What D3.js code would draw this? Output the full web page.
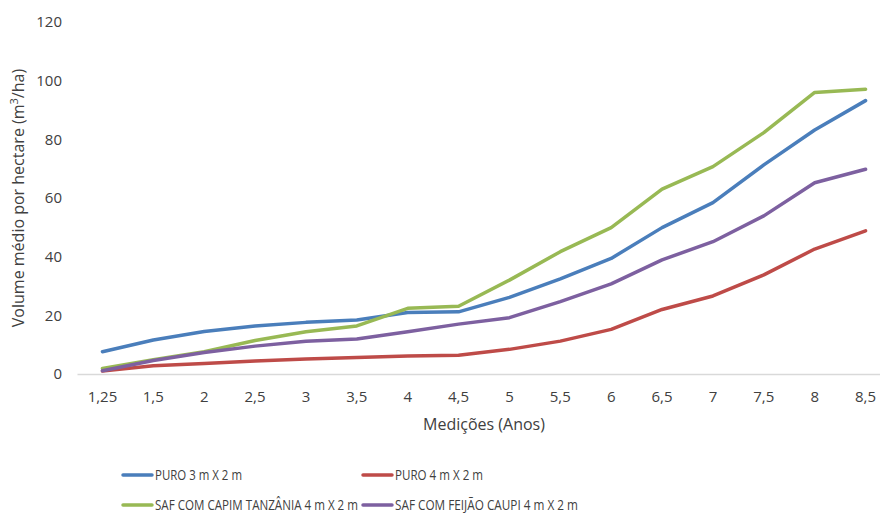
<!DOCTYPE html>
<html>
<head>
<meta charset="utf-8">
<script src="https://cdn.jsdelivr.net/npm/d3@7"></script>
<style>
  body { margin: 0; background: #fff; }
  text { font-family: "Open Sans", "Liberation Sans", sans-serif; fill: #404040; }
</style>
</head>
<body>
<div id="chart"></div>
<script>
// medições (anos)
const categories = ['1,25', '1,5', '2', '2,5', '3', '3,5', '4', '4,5', '5', '5,5', '6', '6,5', '7', '7,5', '8', '8,5']
const yTicks = [0, 20, 40, 60, 80, 100, 120]

const puro3x2 = [7.6, 11.6, 14.5, 16.4, 17.6, 18.4, 21.0, 21.2, 26.1, 32.4, 39.4, 49.9, 58.4, 71.3, 83.2, 93.2]
const puro4x2 = [1.0, 2.8, 3.6, 4.4, 5.1, 5.6, 6.1, 6.4, 8.4, 11.2, 15.2, 22.0, 26.6, 33.8, 42.6, 48.8]
const safCapim = [1.9, 4.9, 7.6, 11.4, 14.4, 16.4, 22.4, 23.1, 32.0, 41.7, 49.9, 63.0, 70.7, 82.3, 96.0, 97.1]
const safFeijao = [1.1, 4.6, 7.3, 9.5, 11.2, 11.9, 14.4, 17.0, 19.2, 24.7, 30.7, 38.9, 45.1, 53.9, 65.2, 69.8]

const seriesNames = ['PURO 3 m X 2 m', 'PURO 4 m X 2 m', 'SAF COM CAPIM TANZÂNIA 4 m X 2 m', 'SAF COM FEIJÃO CAUPI 4 m X 2 m']
const seriesColors = ['#4a7ebb', '#be4b48', '#98b954', '#7d60a0']
const seriesValues = [puro3x2, puro4x2, safCapim, safFeijao]

d3.select(window).on('load', () => {
    let svg = d3.select('#chart').append('svg')
        .attr('width', 880)
        .attr('height', 513)

    let x = d3.scaleBand()
        .domain(categories)
        .range([77, 891])

    let y = d3.scaleLinear()
        .domain([0, 120])
        .range([374, 22])

    // y axis labels, no line
    let yAxis = svg.append('g')
        .attr('transform', 'translate(62, 0)')
        .call(d3.axisLeft(y).tickValues(yTicks).tickSize(0).tickPadding(0))
    yAxis.select('.domain').remove()
    yAxis.selectAll('text')
        .style('font-size', '15px')
        .style('fill', '#404040')

    // x axis
    let xAxis = svg.append('g')
        .attr('transform', 'translate(0, 374)')
        .call(d3.axisBottom(x).tickSize(0).tickPadding(17))
    xAxis.select('.domain')
        .attr('stroke', '#d9d9d9')
        .attr('stroke-width', 1.5)
    xAxis.selectAll('text')
        .style('font-size', '15px')
        .style('fill', '#404040')

    svg.append('text')
        .attr('transform', 'translate(484, 430)')
        .text('Medições (Anos)')
        .style('font-size', '16px')
        .style('text-anchor', 'middle')

    let yTitle = svg.append('text')
        .attr('transform', 'translate(24, 198) rotate(-90)')
        .style('font-size', '16px')
        .style('text-anchor', 'middle')
    yTitle.append('tspan').text('Volume médio por hectare (m')
    yTitle.append('tspan').text('3').attr('dy', -6).style('font-size', '11px')
    yTitle.append('tspan').text('/ha)').attr('dy', 6)

    let line = d3.line()
        .x((d, i) => x(categories[i]) + x.bandwidth() / 2)
        .y(d => y(d))

    seriesValues.forEach((vals, k) => {
        svg.append('path')
            .datum(vals)
            .attr('d', line)
            .attr('fill', 'none')
            .attr('stroke', seriesColors[k])
            .attr('stroke-width', 3.5)
            .attr('stroke-linejoin', 'round')
            .attr('stroke-linecap', 'round')
    })

    // legend
    let legendPos = [[123, 475], [363, 475], [123, 505], [363, 505]]
    let legendWidths = [87, 88, 203, 183]
    seriesNames.forEach((name, k) => {
        let g = svg.append('g')
            .attr('transform', 'translate(' + legendPos[k][0] + ',' + legendPos[k][1] + ')')
        g.append('line')
            .attr('x1', 0).attr('x2', 29)
            .attr('stroke', seriesColors[k])
            .attr('stroke-width', 3.5)
            .attr('stroke-linecap', 'round')
        g.append('text')
            .attr('x', 32)
            .attr('y', 5)
            .text(name)
            .attr('textLength', legendWidths[k])
            .attr('lengthAdjust', 'spacingAndGlyphs')
            .style('font-size', '14px')
    })
})
</script>
</body>
</html>
